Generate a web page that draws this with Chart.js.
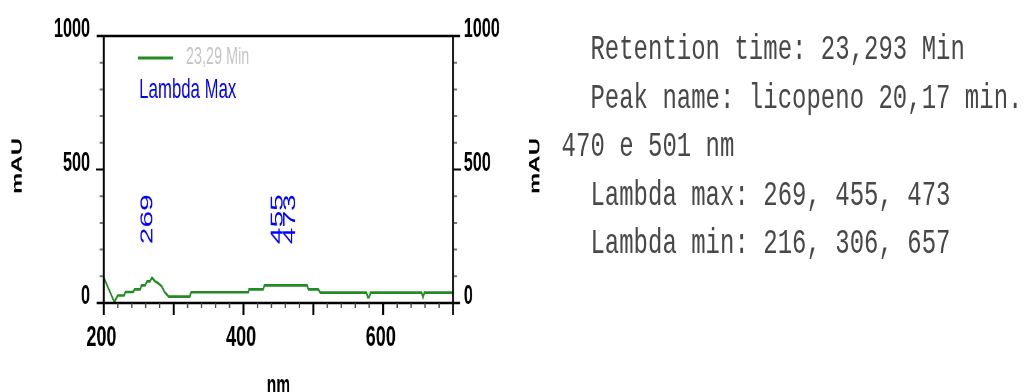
<!DOCTYPE html>
<html>
<head>
<meta charset="utf-8">
<script src="https://cdn.jsdelivr.net/npm/chart.js@4.4.1/dist/chart.umd.min.js"></script>
<style>
  html, body { margin: 0; padding: 0; background: #fff; overflow: hidden; }
  /* the original screenshot is squeezed sideways, so everything is laid out wide and scaled */
  #page { position: absolute; left: 0; top: 0; width: 1717px; height: 392px; transform: scaleX(0.6); transform-origin: 0 0; }
  #chart { position: absolute; left: 0; top: 0; }
  #info { position: absolute; left: 936px; top: 26px; margin: 0; font: 40px/55.1px "Courier New", "Liberation Mono", monospace; color: #484848; white-space: pre; transform: scaleY(0.88); transform-origin: 0 0; }
</style>
</head>
<body>
<div id="page">
  <canvas id="chart" width="940" height="392"></canvas>
  <pre id="info"></pre>
</div>
<script>
const wavelengths = [200, 215, 220, 229, 231, 242, 244, 252, 254, 259, 262, 266, 269, 273, 278, 283, 287, 293, 323, 325, 407, 408, 428, 430, 491, 493, 507, 510, 576, 578, 580, 582, 655, 657, 659, 700];
const absorbance  = [95, 4, 28, 28, 41, 41, 51, 51, 66, 66, 81, 81, 95, 82, 74, 62, 41, 24, 24, 40, 40, 51, 51, 66, 66, 51, 51, 39, 39, 22, 22, 39, 39, 22, 39, 39];
const xTickLabels = [200, 400, 600];
const yTickLabels = [0, 500, 1000];
const peakLabels = [269, 455, 473];
const peakLabelBase = 220;
const seriesName = '23,29 Min';
const infoLines = [
  '  Retention time: 23,293 Min',
  '  Peak name: licopeno 20,17 min.',
  '470 e 501 nm',
  '  Lambda max: 269, 455, 473',
  '  Lambda min: 216, 306, 657'
];

document.getElementById('info').textContent = infoLines.join('\n');

const GREEN = '#228b22';
const BLUE = '#0000ff';
const FONT = '"Liberation Sans", Arial, sans-serif';
const VW = 3.3; // vertical strokes get squeezed by the scaleX

const frame = {
  id: 'frame',
  afterDatasetsDraw(chart) {
    const { ctx, chartArea: a, scales: { x, y } } = chart;
    ctx.save();

    // axes box
    ctx.strokeStyle = '#000';
    ctx.lineWidth = 2.5;
    ctx.beginPath();
    ctx.moveTo(a.left - 12, a.top); ctx.lineTo(a.right + 12, a.top);
    ctx.moveTo(a.left - 12, a.bottom); ctx.lineTo(a.right + 12, a.bottom);
    ctx.stroke();
    ctx.lineWidth = VW;
    ctx.beginPath();
    ctx.moveTo(a.left, a.top); ctx.lineTo(a.left, a.bottom + 1);
    ctx.moveTo(a.right, a.top); ctx.lineTo(a.right, a.bottom + 1);
    ctx.stroke();

    // y ticks
    for (let v = 100; v < 1000; v += 100) {
      const py = y.getPixelForValue(v);
      if (v === 500) {
        ctx.strokeStyle = '#000';
        ctx.lineWidth = 2;
        ctx.beginPath();
        ctx.moveTo(a.left - 13, py); ctx.lineTo(a.left, py);
        ctx.moveTo(a.right, py); ctx.lineTo(a.right + 13, py);
        ctx.stroke();
      } else {
        ctx.strokeStyle = '#777';
        ctx.lineWidth = 2;
        ctx.beginPath();
        ctx.moveTo(a.left - 7, py); ctx.lineTo(a.left - 2, py);
        ctx.moveTo(a.right + 2, py); ctx.lineTo(a.right + 7, py);
        ctx.stroke();
      }
    }

    // x ticks
    for (let v = 200; v <= 700; v += 20) {
      const px = x.getPixelForValue(v);
      const major = v % 100 === 0;
      ctx.strokeStyle = major ? '#000' : '#444';
      ctx.lineWidth = major ? VW : 2.2;
      ctx.beginPath();
      ctx.moveTo(px, a.bottom);
      ctx.lineTo(px, a.bottom + (major ? 12 : 5));
      ctx.stroke();
    }

    // tick labels
    ctx.fillStyle = '#000';
    ctx.font = 'bold 27px ' + FONT;
    ctx.textBaseline = 'middle';
    yTickLabels.forEach(v => {
      const py = y.getPixelForValue(v) - 6;
      ctx.textAlign = 'right';
      ctx.fillText(String(v), a.left - 23, py);
      ctx.textAlign = 'left';
      ctx.fillText(String(v), a.right + 18, py);
    });
    ctx.font = 'bold 30px ' + FONT;
    ctx.textAlign = 'center';
    xTickLabels.forEach(v => {
      ctx.fillText(String(v), x.getPixelForValue(v) - 4, 338);
    });

    // axis titles
    ctx.font = 'bold 26px ' + FONT;
    ctx.fillText('nm', (a.left + a.right) / 2, 386);
    ctx.font = 'bold 24px ' + FONT;
    [29, 892].forEach(cx => {
      ctx.save();
      ctx.translate(cx, 166);
      ctx.rotate(-Math.PI / 2);
      ctx.fillText('mAU', 0, 0);
      ctx.restore();
    });

    // legend inside the plot
    ctx.strokeStyle = GREEN;
    ctx.lineWidth = 3;
    ctx.beginPath();
    ctx.moveTo(230, 58); ctx.lineTo(288, 58);
    ctx.stroke();
    ctx.textAlign = 'left';
    ctx.fillStyle = '#c4c4c4';
    ctx.font = '24px ' + FONT;
    ctx.fillText(seriesName, 310, 57);
    ctx.fillStyle = BLUE;
    ctx.font = '28px ' + FONT;
    ctx.textBaseline = 'alphabetic';
    ctx.fillText('Lambda Max', 232, 98);

    // peak labels
    ctx.font = '30px ' + FONT;
    peakLabels.forEach(w => {
      ctx.save();
      ctx.translate(x.getPixelForValue(w) + 1, y.getPixelForValue(peakLabelBase));
      ctx.rotate(-Math.PI / 2);
      ctx.fillText(String(w), 0, 0);
      ctx.restore();
    });

    ctx.restore();
  }
};

new Chart(document.getElementById('chart'), {
  type: 'line',
  data: {
    datasets: [{
      label: seriesName,
      data: wavelengths.map((w, i) => ({ x: w, y: absorbance[i] })),
      borderColor: GREEN,
      borderWidth: 2.6,
      pointRadius: 0,
      tension: 0,
      fill: false
    }]
  },
  options: {
    responsive: false,
    animation: false,
    events: [],
    layout: { padding: { left: 173, right: 185, top: 36, bottom: 89 } },
    plugins: {
      legend: { display: false },
      tooltip: { enabled: false }
    },
    scales: {
      x: { type: 'linear', min: 200, max: 700, display: false },
      y: { min: 0, max: 1000, display: false }
    }
  },
  plugins: [frame]
});
</script>
</body>
</html>
